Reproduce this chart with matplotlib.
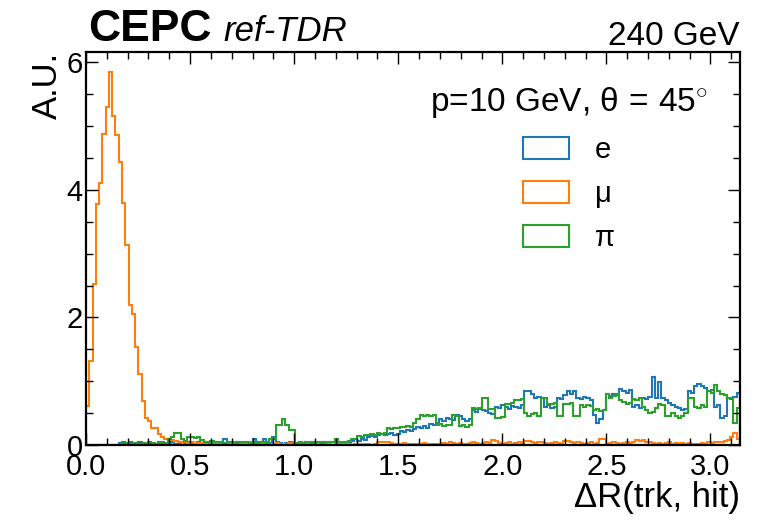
import numpy as np
import matplotlib
matplotlib.use("Agg")
import matplotlib.pyplot as plt
from matplotlib.patches import Patch
from matplotlib.ticker import MultipleLocator

plt.rcParams['font.family'] = ['Liberation Sans', 'DejaVu Sans']
plt.rcParams['mathtext.fontset'] = 'custom'
plt.rcParams['mathtext.rm'] = 'Liberation Sans'
plt.rcParams['mathtext.it'] = 'Liberation Sans:italic'

# 200 bins over [0, pi], normalised (A.U.)
n_bins = 200
x_max = np.pi

labels = ["e", "μ", "π"]
colors = ["#1f77b4", "#ff7f0e", "#2ca02c"]

mu_vals = [
    0.61, 1.31, 2.53, 3.78, 4.11, 4.87, 5.29, 5.85, 5.15, 4.86, 4.43, 3.79, 3.13, 2.19, 2.05, 1.54, 1.12, 0.69, 0.42, 0.37,
    0.26, 0.26, 0.18, 0.13, 0.09, 0.08, 0.08, 0.06, 0.05, 0.04, 0.05, 0.03, 0.04, 0.02, 0.03, 0.03, 0.02, 0.04, 0.02, 0.03,
    0.02, 0.03, 0.01, 0.02, 0.03, 0.02, 0.01, 0.03, 0.02, 0.02, 0.04, 0.02, 0.01, 0.02, 0.03, 0.02, 0.01, 0.02, 0.03, 0.02,
    0.01, 0.02, 0.03, 0.01, 0.02, 0.01, 0.02, 0.01, 0.00, 0.01, 0.02, 0.01, 0.01, 0.02, 0.01, 0.00, 0.01, 0.01, 0.02, 0.01,
    0.01, 0.00, 0.01, 0.01, 0.02, 0.01, 0.01, 0.00, 0.01, 0.05, 0.05, 0.04, 0.05, 0.03, 0.01, 0.02, 0.01, 0.03, 0.02, 0.01,
    0.02, 0.01, 0.02, 0.03, 0.02, 0.01, 0.02, 0.02, 0.01, 0.03, 0.02, 0.04, 0.03, 0.02, 0.03, 0.02, 0.01, 0.03, 0.04, 0.03,
    0.02, 0.03, 0.04, 0.03, 0.08, 0.07, 0.03, 0.02, 0.03, 0.04, 0.02, 0.03, 0.04, 0.03, 0.06, 0.07, 0.04, 0.03, 0.05, 0.04,
    0.03, 0.02, 0.03, 0.04, 0.03, 0.02, 0.07, 0.06, 0.04, 0.03, 0.05, 0.03, 0.02, 0.03, 0.04, 0.02, 0.03, 0.09, 0.10, 0.02,
    0.03, 0.04, 0.03, 0.02, 0.03, 0.04, 0.03, 0.05, 0.08, 0.07, 0.08, 0.05, 0.04, 0.03, 0.02, 0.03, 0.02, 0.03, 0.04, 0.02,
    0.03, 0.02, 0.03, 0.02, 0.03, 0.02, 0.01, 0.02, 0.03, 0.02, 0.04, 0.03, 0.05, 0.04, 0.05, 0.06, 0.08, 0.13, 0.19, 0.10,
]

e_vals = [
    0, 0, 0, 0, 0, 0, 0, 0, 0, 0, 0.03, 0.04, 0.03, 0.04, 0.02, 0.03, 0.04, 0.03, 0.02, 0.04,
    0.03, 0.02, 0.04, 0.03, 0.02, 0.03, 0.04, 0.02, 0.03, 0.05, 0.03, 0.04, 0.03, 0.02, 0.04, 0.03, 0.05, 0.03, 0.04, 0.02,
    0.03, 0.04, 0.09, 0.03, 0.04, 0.03, 0.05, 0.03, 0.04, 0.02, 0.03, 0.09, 0.04, 0.03, 0.09, 0.04, 0.03, 0.13, 0.04, 0.03,
    0.02, 0.03, 0.04, 0.03, 0.02, 0.04, 0.03, 0.05, 0.03, 0.04, 0.03, 0.02, 0.04, 0.03, 0.05, 0.04, 0.03, 0.04, 0.05, 0.04,
    0.05, 0.07, 0.09, 0.06, 0.09, 0.08, 0.12, 0.14, 0.12, 0.16, 0.18, 0.15, 0.17, 0.19, 0.15, 0.18, 0.22, 0.20, 0.23, 0.22,
    0.25, 0.28, 0.26, 0.30, 0.27, 0.33, 0.31, 0.35, 0.40, 0.38, 0.42, 0.40, 0.39, 0.47, 0.46, 0.40, 0.38, 0.41, 0.55, 0.52,
    0.56, 0.55, 0.53, 0.50, 0.49, 0.60, 0.58, 0.62, 0.60, 0.57, 0.61, 0.60, 0.58, 0.62, 0.84, 0.84, 0.80, 0.74, 0.76, 0.74,
    0.60, 0.62, 0.58, 0.60, 0.74, 0.72, 0.78, 0.84, 0.80, 0.84, 0.74, 0.72, 0.75, 0.73, 0.70, 0.47, 0.34, 0.40, 0.55, 0.80,
    0.77, 0.80, 0.78, 0.87, 0.85, 0.82, 0.86, 0.60, 0.62, 0.58, 0.74, 0.72, 0.75, 1.07, 0.74, 0.99, 0.74, 0.70, 0.66, 0.62,
    0.60, 0.58, 0.55, 0.57, 0.84, 0.82, 0.92, 0.95, 0.93, 0.90, 0.84, 0.86, 0.60, 0.62, 0.43, 0.45, 0.74, 0.72, 0.75, 0.82,
]

pi_vals = [
    0, 0, 0, 0, 0, 0, 0, 0, 0, 0, 0.02, 0.03, 0.03, 0.02, 0.03, 0.03, 0.02, 0.03, 0.03, 0.02,
    0.03, 0.02, 0.03, 0.04, 0.03, 0.10, 0.12, 0.19, 0.19, 0.10, 0.06, 0.12, 0.13, 0.11, 0.12, 0.08, 0.05, 0.04, 0.06, 0.05,
    0.04, 0.05, 0.03, 0.04, 0.05, 0.04, 0.03, 0.04, 0.05, 0.04, 0.03, 0.04, 0.03, 0.05, 0.04, 0.03, 0.10, 0.10, 0.31, 0.31,
    0.40, 0.31, 0.23, 0.23, 0.03, 0.04, 0.03, 0.05, 0.04, 0.03, 0.04, 0.05, 0.03, 0.04, 0.05, 0.04, 0.09, 0.04, 0.05, 0.04,
    0.06, 0.09, 0.10, 0.14, 0.13, 0.15, 0.16, 0.18, 0.15, 0.19, 0.17, 0.19, 0.26, 0.25, 0.27, 0.26, 0.29, 0.28, 0.30, 0.29,
    0.34, 0.40, 0.47, 0.46, 0.47, 0.45, 0.47, 0.31, 0.33, 0.30, 0.32, 0.31, 0.47, 0.46, 0.30, 0.32, 0.29, 0.31, 0.58, 0.57,
    0.58, 0.74, 0.73, 0.57, 0.56, 0.43, 0.42, 0.44, 0.65, 0.64, 0.66, 0.71, 0.70, 0.72, 0.50, 0.45, 0.48, 0.50, 0.46, 0.74,
    0.73, 0.65, 0.64, 0.66, 0.45, 0.46, 0.65, 0.64, 0.66, 0.45, 0.46, 0.62, 0.60, 0.63, 0.61, 0.55, 0.56, 0.54, 0.55, 0.80,
    0.74, 0.77, 0.80, 0.70, 0.68, 0.65, 0.66, 0.72, 0.70, 0.73, 0.60, 0.55, 0.50, 0.52, 0.58, 0.65, 0.62, 0.45, 0.46, 0.50,
    0.45, 0.42, 0.45, 0.50, 0.74, 0.73, 0.60, 0.58, 0.62, 0.60, 0.84, 0.82, 0.94, 0.85, 0.80, 0.78, 0.74, 0.73, 0.34, 0.58,
]

edges = np.linspace(0, x_max, n_bins + 1)
series = [e_vals, mu_vals, pi_vals]

fig = plt.figure(figsize=(7.7, 5.22), dpi=100)
ax = fig.add_axes([0.1117, 0.1475, 0.961 - 0.1117, 0.9004 - 0.1475])

for vals, c in zip(series, colors):
    ax.stairs(vals, edges, color=c, lw=1.5)

ax.set_xlim(0, x_max)
ax.set_ylim(0, 6.16)

# ticks inside on all sides (HEP style)
ax.xaxis.set_major_locator(MultipleLocator(0.5))
ax.xaxis.set_minor_locator(MultipleLocator(0.1))
ax.yaxis.set_major_locator(MultipleLocator(2))
ax.yaxis.set_minor_locator(MultipleLocator(0.5))
ax.tick_params(which='both', direction='in', top=True, right=True, labelsize=21)
ax.tick_params(which='major', length=8.5, width=1.0)
ax.tick_params(which='minor', length=5, width=1.0)
ax.tick_params(axis='x', pad=6)
ax.tick_params(axis='y', pad=2.5)
for sp in ax.spines.values():
    sp.set_linewidth(1.6)

ax.set_xlabel("ΔR(trk, hit)", fontsize=25, loc='right', labelpad=0)
ax.set_ylabel("A.U.", fontsize=25, loc='top', labelpad=2)

# experiment label
fig.text(0.114, 0.9215, "CEPC", fontsize=32, fontweight='bold',
         ha='left', va='baseline')
fig.text(0.2896, 0.9215, "ref-TDR", fontsize=25, style='italic',
         ha='left', va='baseline')
fig.text(0.961, 0.914, "240 GeV", fontsize=24, ha='right', va='baseline')

handles = [Patch(facecolor='none', edgecolor=c, lw=1.5) for c in colors]
leg = ax.legend(handles, labels, loc='upper right', bbox_to_anchor=(0.951, 0.916),
                frameon=False, fontsize=21, title=r"p=10 GeV, θ$\,=\,$45$^{\circ}$",
                title_fontsize=24, handlelength=1.58, handleheight=0.76,
                handletextpad=0.9, labelspacing=0.55, borderpad=0, borderaxespad=0)

fig.savefig("out.png", dpi=100)
